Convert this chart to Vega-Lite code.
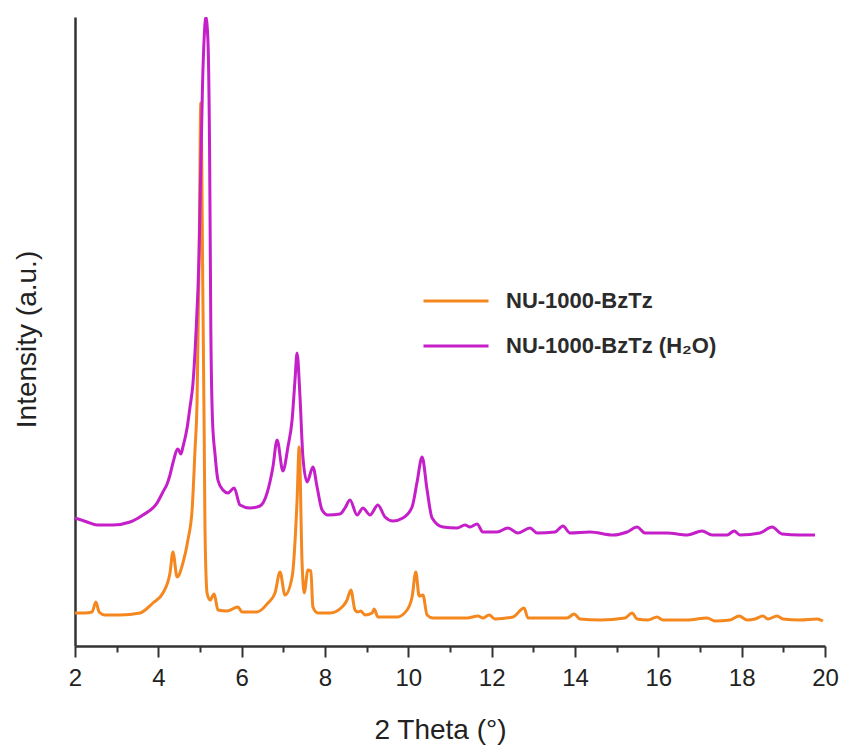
{
  "$schema": "https://vega.github.io/schema/vega-lite/v6.json",
  "width": 750,
  "height": 629,
  "autosize": {"type": "none"},
  "padding": {"left": 75, "top": 17, "right": 18, "bottom": 99},
  "background": "white",
  "config": {
    "view": {"stroke": null},
    "font": "Liberation Sans"
  },
  "data": {
    "values": [
      {"series": "NU-1000-BzTz", "theta": 2.00, "I": 33},
      {"series": "NU-1000-BzTz", "theta": 2.24, "I": 33},
      {"series": "NU-1000-BzTz", "theta": 2.41, "I": 34},
      {"series": "NU-1000-BzTz", "theta": 2.50, "I": 44},
      {"series": "NU-1000-BzTz", "theta": 2.58, "I": 34},
      {"series": "NU-1000-BzTz", "theta": 2.72, "I": 31},
      {"series": "NU-1000-BzTz", "theta": 3.08, "I": 31},
      {"series": "NU-1000-BzTz", "theta": 3.56, "I": 33},
      {"series": "NU-1000-BzTz", "theta": 3.87, "I": 43},
      {"series": "NU-1000-BzTz", "theta": 4.11, "I": 53},
      {"series": "NU-1000-BzTz", "theta": 4.28, "I": 73},
      {"series": "NU-1000-BzTz", "theta": 4.35, "I": 94},
      {"series": "NU-1000-BzTz", "theta": 4.45, "I": 69},
      {"series": "NU-1000-BzTz", "theta": 4.59, "I": 83},
      {"series": "NU-1000-BzTz", "theta": 4.71, "I": 106},
      {"series": "NU-1000-BzTz", "theta": 4.81, "I": 136},
      {"series": "NU-1000-BzTz", "theta": 4.88, "I": 196},
      {"series": "NU-1000-BzTz", "theta": 4.93, "I": 246},
      {"series": "NU-1000-BzTz", "theta": 4.98, "I": 396},
      {"series": "NU-1000-BzTz", "theta": 5.02, "I": 543},
      {"series": "NU-1000-BzTz", "theta": 5.07, "I": 346},
      {"series": "NU-1000-BzTz", "theta": 5.10, "I": 216},
      {"series": "NU-1000-BzTz", "theta": 5.12, "I": 116},
      {"series": "NU-1000-BzTz", "theta": 5.17, "I": 53},
      {"series": "NU-1000-BzTz", "theta": 5.24, "I": 46},
      {"series": "NU-1000-BzTz", "theta": 5.34, "I": 52},
      {"series": "NU-1000-BzTz", "theta": 5.43, "I": 36},
      {"series": "NU-1000-BzTz", "theta": 5.65, "I": 35},
      {"series": "NU-1000-BzTz", "theta": 5.91, "I": 39},
      {"series": "NU-1000-BzTz", "theta": 6.01, "I": 34},
      {"series": "NU-1000-BzTz", "theta": 6.37, "I": 34},
      {"series": "NU-1000-BzTz", "theta": 6.63, "I": 43},
      {"series": "NU-1000-BzTz", "theta": 6.80, "I": 53},
      {"series": "NU-1000-BzTz", "theta": 6.92, "I": 74},
      {"series": "NU-1000-BzTz", "theta": 7.04, "I": 51},
      {"series": "NU-1000-BzTz", "theta": 7.21, "I": 69},
      {"series": "NU-1000-BzTz", "theta": 7.33, "I": 146},
      {"series": "NU-1000-BzTz", "theta": 7.38, "I": 199},
      {"series": "NU-1000-BzTz", "theta": 7.45, "I": 83},
      {"series": "NU-1000-BzTz", "theta": 7.50, "I": 53},
      {"series": "NU-1000-BzTz", "theta": 7.59, "I": 76},
      {"series": "NU-1000-BzTz", "theta": 7.66, "I": 75},
      {"series": "NU-1000-BzTz", "theta": 7.71, "I": 39},
      {"series": "NU-1000-BzTz", "theta": 7.83, "I": 33},
      {"series": "NU-1000-BzTz", "theta": 8.12, "I": 33},
      {"series": "NU-1000-BzTz", "theta": 8.41, "I": 39},
      {"series": "NU-1000-BzTz", "theta": 8.53, "I": 46},
      {"series": "NU-1000-BzTz", "theta": 8.62, "I": 56},
      {"series": "NU-1000-BzTz", "theta": 8.72, "I": 36},
      {"series": "NU-1000-BzTz", "theta": 8.79, "I": 34},
      {"series": "NU-1000-BzTz", "theta": 8.86, "I": 35},
      {"series": "NU-1000-BzTz", "theta": 8.96, "I": 31},
      {"series": "NU-1000-BzTz", "theta": 9.13, "I": 33},
      {"series": "NU-1000-BzTz", "theta": 9.18, "I": 37},
      {"series": "NU-1000-BzTz", "theta": 9.27, "I": 29},
      {"series": "NU-1000-BzTz", "theta": 9.73, "I": 29},
      {"series": "NU-1000-BzTz", "theta": 9.97, "I": 36},
      {"series": "NU-1000-BzTz", "theta": 10.09, "I": 49},
      {"series": "NU-1000-BzTz", "theta": 10.18, "I": 74},
      {"series": "NU-1000-BzTz", "theta": 10.26, "I": 50},
      {"series": "NU-1000-BzTz", "theta": 10.35, "I": 51},
      {"series": "NU-1000-BzTz", "theta": 10.45, "I": 31},
      {"series": "NU-1000-BzTz", "theta": 10.59, "I": 28},
      {"series": "NU-1000-BzTz", "theta": 11.41, "I": 28},
      {"series": "NU-1000-BzTz", "theta": 11.67, "I": 30},
      {"series": "NU-1000-BzTz", "theta": 11.79, "I": 28},
      {"series": "NU-1000-BzTz", "theta": 11.94, "I": 31},
      {"series": "NU-1000-BzTz", "theta": 12.08, "I": 27},
      {"series": "NU-1000-BzTz", "theta": 12.51, "I": 29},
      {"series": "NU-1000-BzTz", "theta": 12.78, "I": 38},
      {"series": "NU-1000-BzTz", "theta": 12.87, "I": 28},
      {"series": "NU-1000-BzTz", "theta": 13.81, "I": 28},
      {"series": "NU-1000-BzTz", "theta": 13.98, "I": 32},
      {"series": "NU-1000-BzTz", "theta": 14.12, "I": 27},
      {"series": "NU-1000-BzTz", "theta": 14.60, "I": 26},
      {"series": "NU-1000-BzTz", "theta": 15.20, "I": 28},
      {"series": "NU-1000-BzTz", "theta": 15.37, "I": 33},
      {"series": "NU-1000-BzTz", "theta": 15.49, "I": 27},
      {"series": "NU-1000-BzTz", "theta": 15.75, "I": 26},
      {"series": "NU-1000-BzTz", "theta": 15.97, "I": 29},
      {"series": "NU-1000-BzTz", "theta": 16.11, "I": 26},
      {"series": "NU-1000-BzTz", "theta": 16.69, "I": 26},
      {"series": "NU-1000-BzTz", "theta": 17.17, "I": 28},
      {"series": "NU-1000-BzTz", "theta": 17.36, "I": 25},
      {"series": "NU-1000-BzTz", "theta": 17.72, "I": 26},
      {"series": "NU-1000-BzTz", "theta": 17.94, "I": 30},
      {"series": "NU-1000-BzTz", "theta": 18.13, "I": 26},
      {"series": "NU-1000-BzTz", "theta": 18.32, "I": 27},
      {"series": "NU-1000-BzTz", "theta": 18.51, "I": 30},
      {"series": "NU-1000-BzTz", "theta": 18.63, "I": 27},
      {"series": "NU-1000-BzTz", "theta": 18.85, "I": 30},
      {"series": "NU-1000-BzTz", "theta": 18.99, "I": 27},
      {"series": "NU-1000-BzTz", "theta": 19.40, "I": 26},
      {"series": "NU-1000-BzTz", "theta": 19.81, "I": 27},
      {"series": "NU-1000-BzTz", "theta": 19.95, "I": 25},
      {"series": "NU-1000-BzTz (H₂O)", "theta": 2.00, "I": 128},
      {"series": "NU-1000-BzTz (H₂O)", "theta": 2.29, "I": 124},
      {"series": "NU-1000-BzTz (H₂O)", "theta": 2.53, "I": 121},
      {"series": "NU-1000-BzTz (H₂O)", "theta": 2.91, "I": 121},
      {"series": "NU-1000-BzTz (H₂O)", "theta": 3.32, "I": 124},
      {"series": "NU-1000-BzTz (H₂O)", "theta": 3.63, "I": 131},
      {"series": "NU-1000-BzTz (H₂O)", "theta": 3.97, "I": 143},
      {"series": "NU-1000-BzTz (H₂O)", "theta": 4.11, "I": 154},
      {"series": "NU-1000-BzTz (H₂O)", "theta": 4.21, "I": 162},
      {"series": "NU-1000-BzTz (H₂O)", "theta": 4.28, "I": 171},
      {"series": "NU-1000-BzTz (H₂O)", "theta": 4.35, "I": 183},
      {"series": "NU-1000-BzTz (H₂O)", "theta": 4.47, "I": 197},
      {"series": "NU-1000-BzTz (H₂O)", "theta": 4.54, "I": 192},
      {"series": "NU-1000-BzTz (H₂O)", "theta": 4.59, "I": 199},
      {"series": "NU-1000-BzTz (H₂O)", "theta": 4.69, "I": 218},
      {"series": "NU-1000-BzTz (H₂O)", "theta": 4.76, "I": 239},
      {"series": "NU-1000-BzTz (H₂O)", "theta": 4.83, "I": 262},
      {"series": "NU-1000-BzTz (H₂O)", "theta": 4.90, "I": 310},
      {"series": "NU-1000-BzTz (H₂O)", "theta": 4.98, "I": 396},
      {"series": "NU-1000-BzTz (H₂O)", "theta": 5.02, "I": 480},
      {"series": "NU-1000-BzTz (H₂O)", "theta": 5.06, "I": 560},
      {"series": "NU-1000-BzTz (H₂O)", "theta": 5.10, "I": 608},
      {"series": "NU-1000-BzTz (H₂O)", "theta": 5.14, "I": 629},
      {"series": "NU-1000-BzTz (H₂O)", "theta": 5.19, "I": 606},
      {"series": "NU-1000-BzTz (H₂O)", "theta": 5.23, "I": 496},
      {"series": "NU-1000-BzTz (H₂O)", "theta": 5.26, "I": 316},
      {"series": "NU-1000-BzTz (H₂O)", "theta": 5.30, "I": 226},
      {"series": "NU-1000-BzTz (H₂O)", "theta": 5.36, "I": 192},
      {"series": "NU-1000-BzTz (H₂O)", "theta": 5.43, "I": 166},
      {"series": "NU-1000-BzTz (H₂O)", "theta": 5.55, "I": 156},
      {"series": "NU-1000-BzTz (H₂O)", "theta": 5.67, "I": 153},
      {"series": "NU-1000-BzTz (H₂O)", "theta": 5.82, "I": 158},
      {"series": "NU-1000-BzTz (H₂O)", "theta": 5.96, "I": 141},
      {"series": "NU-1000-BzTz (H₂O)", "theta": 6.20, "I": 138},
      {"series": "NU-1000-BzTz (H₂O)", "theta": 6.44, "I": 140},
      {"series": "NU-1000-BzTz (H₂O)", "theta": 6.61, "I": 153},
      {"series": "NU-1000-BzTz (H₂O)", "theta": 6.75, "I": 179},
      {"series": "NU-1000-BzTz (H₂O)", "theta": 6.85, "I": 206},
      {"series": "NU-1000-BzTz (H₂O)", "theta": 6.99, "I": 175},
      {"series": "NU-1000-BzTz (H₂O)", "theta": 7.11, "I": 199},
      {"series": "NU-1000-BzTz (H₂O)", "theta": 7.21, "I": 226},
      {"series": "NU-1000-BzTz (H₂O)", "theta": 7.28, "I": 266},
      {"series": "NU-1000-BzTz (H₂O)", "theta": 7.33, "I": 293},
      {"series": "NU-1000-BzTz (H₂O)", "theta": 7.40, "I": 249},
      {"series": "NU-1000-BzTz (H₂O)", "theta": 7.47, "I": 189},
      {"series": "NU-1000-BzTz (H₂O)", "theta": 7.57, "I": 164},
      {"series": "NU-1000-BzTz (H₂O)", "theta": 7.71, "I": 179},
      {"series": "NU-1000-BzTz (H₂O)", "theta": 7.81, "I": 159},
      {"series": "NU-1000-BzTz (H₂O)", "theta": 7.93, "I": 136},
      {"series": "NU-1000-BzTz (H₂O)", "theta": 8.07, "I": 131},
      {"series": "NU-1000-BzTz (H₂O)", "theta": 8.36, "I": 132},
      {"series": "NU-1000-BzTz (H₂O)", "theta": 8.48, "I": 138},
      {"series": "NU-1000-BzTz (H₂O)", "theta": 8.60, "I": 146},
      {"series": "NU-1000-BzTz (H₂O)", "theta": 8.77, "I": 131},
      {"series": "NU-1000-BzTz (H₂O)", "theta": 8.91, "I": 138},
      {"series": "NU-1000-BzTz (H₂O)", "theta": 9.08, "I": 131},
      {"series": "NU-1000-BzTz (H₂O)", "theta": 9.27, "I": 141},
      {"series": "NU-1000-BzTz (H₂O)", "theta": 9.44, "I": 129},
      {"series": "NU-1000-BzTz (H₂O)", "theta": 9.63, "I": 125},
      {"series": "NU-1000-BzTz (H₂O)", "theta": 9.87, "I": 128},
      {"series": "NU-1000-BzTz (H₂O)", "theta": 10.09, "I": 139},
      {"series": "NU-1000-BzTz (H₂O)", "theta": 10.21, "I": 164},
      {"series": "NU-1000-BzTz (H₂O)", "theta": 10.33, "I": 189},
      {"series": "NU-1000-BzTz (H₂O)", "theta": 10.45, "I": 156},
      {"series": "NU-1000-BzTz (H₂O)", "theta": 10.57, "I": 128},
      {"series": "NU-1000-BzTz (H₂O)", "theta": 10.83, "I": 119},
      {"series": "NU-1000-BzTz (H₂O)", "theta": 11.17, "I": 118},
      {"series": "NU-1000-BzTz (H₂O)", "theta": 11.36, "I": 121},
      {"series": "NU-1000-BzTz (H₂O)", "theta": 11.48, "I": 119},
      {"series": "NU-1000-BzTz (H₂O)", "theta": 11.65, "I": 122},
      {"series": "NU-1000-BzTz (H₂O)", "theta": 11.79, "I": 114},
      {"series": "NU-1000-BzTz (H₂O)", "theta": 12.13, "I": 114},
      {"series": "NU-1000-BzTz (H₂O)", "theta": 12.39, "I": 118},
      {"series": "NU-1000-BzTz (H₂O)", "theta": 12.63, "I": 113},
      {"series": "NU-1000-BzTz (H₂O)", "theta": 12.92, "I": 118},
      {"series": "NU-1000-BzTz (H₂O)", "theta": 13.09, "I": 113},
      {"series": "NU-1000-BzTz (H₂O)", "theta": 13.52, "I": 114},
      {"series": "NU-1000-BzTz (H₂O)", "theta": 13.71, "I": 120},
      {"series": "NU-1000-BzTz (H₂O)", "theta": 13.88, "I": 113},
      {"series": "NU-1000-BzTz (H₂O)", "theta": 14.36, "I": 114},
      {"series": "NU-1000-BzTz (H₂O)", "theta": 14.91, "I": 111},
      {"series": "NU-1000-BzTz (H₂O)", "theta": 15.25, "I": 114},
      {"series": "NU-1000-BzTz (H₂O)", "theta": 15.49, "I": 119},
      {"series": "NU-1000-BzTz (H₂O)", "theta": 15.68, "I": 113},
      {"series": "NU-1000-BzTz (H₂O)", "theta": 16.21, "I": 113},
      {"series": "NU-1000-BzTz (H₂O)", "theta": 16.69, "I": 111},
      {"series": "NU-1000-BzTz (H₂O)", "theta": 17.05, "I": 115},
      {"series": "NU-1000-BzTz (H₂O)", "theta": 17.29, "I": 111},
      {"series": "NU-1000-BzTz (H₂O)", "theta": 17.65, "I": 111},
      {"series": "NU-1000-BzTz (H₂O)", "theta": 17.82, "I": 115},
      {"series": "NU-1000-BzTz (H₂O)", "theta": 17.96, "I": 111},
      {"series": "NU-1000-BzTz (H₂O)", "theta": 18.44, "I": 113},
      {"series": "NU-1000-BzTz (H₂O)", "theta": 18.73, "I": 119},
      {"series": "NU-1000-BzTz (H₂O)", "theta": 18.97, "I": 112},
      {"series": "NU-1000-BzTz (H₂O)", "theta": 19.40, "I": 111},
      {"series": "NU-1000-BzTz (H₂O)", "theta": 19.76, "I": 111}
    ]
  },
  "mark": {"type": "line", "strokeWidth": 3, "strokeJoin": "round", "interpolate": "monotone", "clip": true},
  "encoding": {
    "x": {
      "field": "theta",
      "type": "quantitative",
      "scale": {"domain": [2, 20], "nice": false, "zero": false},
      "axis": {
        "title": "2 Theta (°)",
        "titleFontSize": 28,
        "titleFontWeight": "normal",
        "titleColor": "#222222",
        "titleX": 365,
        "titleY": 92,
        "titleBaseline": "alphabetic",
        "values": [2, 2.5, 3, 3.5, 4, 4.5, 5, 5.5, 6, 6.5, 7, 7.5, 8, 8.5, 9, 9.5, 10, 10.5, 11, 11.5, 12, 12.5, 13, 13.5, 14, 14.5, 15, 15.5, 16, 16.5, 17, 17.5, 18, 18.5, 19, 19.5, 20],
        "format": "d",
        "labelExpr": "datum.value % 2 === 0 ? format(datum.value, 'd') : ''",
        "labelFontSize": 24,
        "labelColor": "#222222",
        "labelPadding": 9,
        "labelFlush": false,
        "labelOverlap": false,
        "tickSize": {"condition": {"test": "datum.value % 2 === 0", "value": 11}, "value": 6},
        "tickWidth": 2,
        "tickColor": "#333333",
        "domainColor": "#333333",
        "domainWidth": 2.5,
        "grid": false
      }
    },
    "y": {
      "field": "I",
      "type": "quantitative",
      "scale": {"domain": [0, 629], "nice": false, "zero": false},
      "axis": {
        "title": "Intensity (a.u.)",
        "titleFontSize": 28,
        "titleFontWeight": "normal",
        "titleColor": "#222222",
        "titleX": -40,
        "titleY": 322,
        "titleAngle": -90,
        "titleAlign": "center",
        "titleBaseline": "alphabetic",
        "labels": false,
        "ticks": false,
        "grid": false,
        "domainColor": "#333333",
        "domainWidth": 2.5
      }
    },
    "color": {
      "field": "series",
      "type": "nominal",
      "scale": {
        "domain": ["NU-1000-BzTz", "NU-1000-BzTz (H₂O)"],
        "range": ["#f5871f", "#c41fc8"]
      },
      "legend": {
        "title": null,
        "orient": "none",
        "legendX": 347,
        "legendY": 250,
        "padding": 0,
        "symbolType": "stroke",
        "symbolSize": 4225,
        "symbolStrokeWidth": 3,
        "labelFontSize": 22,
        "labelFontWeight": "bold",
        "labelColor": "#2b2b2b",
        "labelOffset": 16,
        "labelLimit": 400,
        "rowPadding": -6
      }
    }
  }
}
